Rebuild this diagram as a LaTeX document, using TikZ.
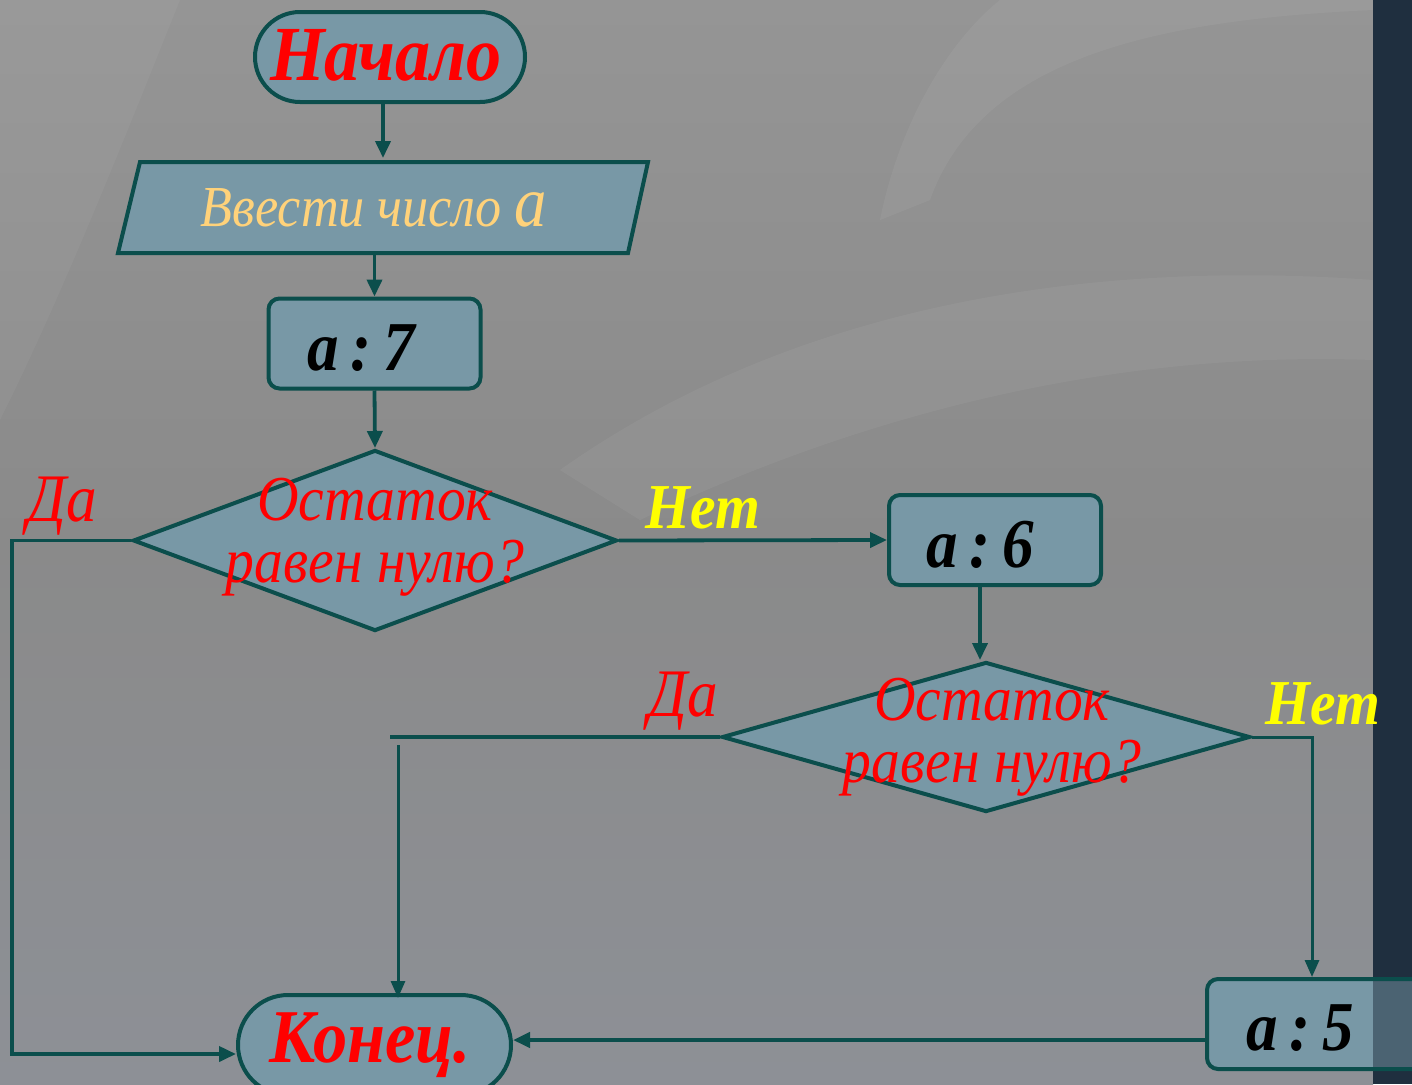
\documentclass[tikz,border=0pt]{standalone}
\usepackage{fontspec}
\setmainfont{Liberation Serif}
\newfontfamily\condfont[FakeStretch=0.9]{Liberation Serif}
\usetikzlibrary{shapes.geometric,shapes.misc,arrows.meta}
\definecolor{boxfill}{HTML}{7898A6}
\definecolor{edgec}{HTML}{0B4E4C}
\definecolor{redt}{HTML}{FF0000}
\definecolor{yelt}{HTML}{FFFF00}
\definecolor{inputt}{HTML}{FFD27A}
\definecolor{barc}{HTML}{1F2F3F}
\definecolor{bgtop}{HTML}{959595}
\definecolor{bgmid}{HTML}{8A8A8A}
\definecolor{bgbot}{HTML}{8D9096}
\tikzset{
  shapefill/.style={fill=boxfill, draw=edgec, line width=4pt},
  termbox/.style={shapefill, rounded rectangle, minimum width=270pt, minimum height=90pt, inner sep=0pt},
  procbox/.style={shapefill, rectangle, rounded corners=11pt, minimum width=212pt, minimum height=90pt, inner sep=0pt},
  decbox/.style={shapefill, diamond, inner sep=0pt},
  conn/.style={draw=edgec, line width=3.8pt, -{Triangle[length=17pt,width=15pt]}},
  thinconn/.style={draw=edgec, line width=3pt, -{Triangle[length=17pt,width=14pt]}},
  plainline/.style={draw=edgec, line width=3.8pt},
  txt/.style={inner sep=0pt, font=\condfont\itshape\fontsize{64}{62}\selectfont},
  boldtxt/.style={inner sep=0pt, font=\condfont\bfseries\itshape\fontsize{70}{70}\selectfont},
  yeltxt/.style={inner sep=0pt, text=yelt, font=\condfont\bfseries\itshape\fontsize{64}{64}\selectfont},
}
\begin{document}
\begin{tikzpicture}[x=1pt,y=-1pt]
% background
\useasboundingbox (0,0) rectangle (1412,1084);
\shade[top color=bgtop, bottom color=bgbot, middle color=bgmid] (0,0) rectangle (1373,1084);
\fill[white, opacity=0.05] (560,470) .. controls (800,300) and (1100,260) .. (1373,280) -- (1373,360) .. controls (1100,350) and (850,420) .. (640,520) -- cycle;
\fill[white, opacity=0.05] (930,200) .. controls (980,60) and (1150,20) .. (1373,10) -- (1373,0) -- (1000,0) .. controls (950,40) and (900,120) .. (880,220) -- cycle;
\fill[white, opacity=0.04] (0,0) -- (180,0) .. controls (120,150) and (60,300) .. (0,420) -- cycle;
\fill[barc] (1373,0) rectangle (1412,1084);

% input parallelogram
\node (inp) [minimum width=490pt, minimum height=91pt, inner sep=0pt] at (383,208) {};
\filldraw[shapefill] (140,162) -- (648,162) -- (628,253) -- (118,253) -- cycle;
\node[inner sep=0pt, text=inputt, font=\condfont\itshape\fontsize{58}{58}\selectfont] (inptxt) at (374,208) {Ввести число \fontsize{72}{72}\selectfont a};

% terminals and processes
\node[termbox] (start) at (390,57) {};
\node[boldtxt, text=redt, font=\condfont\bfseries\itshape\fontsize{78}{78}\selectfont] (starttxt) at (386,55) {Начало};

\node[procbox] (a7) at (374.5,343.5) {};
\node[boldtxt, text=black] (a7t) at (361,348) {a\,:\,7};

\node[decbox, minimum width=484pt, minimum height=181pt] (d1) at (375,540.5) {};
\node[txt, text=redt, align=center] (d1t) at (375,537) {Остаток\\равен нулю?};

\node[procbox] (a6) at (995,540) {};
\node[boldtxt, text=black] (a6t) at (980,545) {a\,:\,6};

\node[decbox, minimum width=528pt, minimum height=150pt] (d2) at (986,737) {};
\node[txt, text=redt, align=center] (d2t) at (992,737) {Остаток\\равен нулю?};

\node[procbox, minimum width=220pt] (a5) at (1317,1024) {};
\fill[barc, opacity=0.5] (1373,981) rectangle (1412,1067);
\node[boldtxt, text=black] (a5t) at (1300,1028) {a\,:\,5};

\node[termbox, minimum width=273pt, minimum height=100pt] (end) at (374.5,1045) {};
\node[boldtxt, text=redt, font=\condfont\bfseries\itshape\fontsize{76}{76}\selectfont] (endt) at (370,1045) {Конец.};

% labels
\node[txt, text=redt, font=\condfont\itshape\fontsize{68}{68}\selectfont] (da1) at (62,506) {Да};
\node[yeltxt] (net1) at (703,508) {Нет};
\node[txt, text=redt, font=\condfont\itshape\fontsize{68}{68}\selectfont] (da2) at (683,701) {Да};
\node[yeltxt] (net2) at (1323,704) {Нет};

% connectors
\draw[conn] (383,102) -- (383,158);
\draw[conn] (inp.south -| a7.north) -- (a7.north);
\draw[conn] (a7.south) -- (d1.north);
\draw[conn] (d1.east) -- (a6.west);
\draw[conn] (a6.south -| 980,0) -- (980,660);
\coordinate (c1) at (12,540.5);
\draw[conn] (d1.west) -- (c1) |- (end.west |- 0,1054);
\coordinate (c2) at (390,737);
\draw[plainline] (d2.west) -- (c2);
\draw[thinconn] (398,745) -- (398,998);
\draw[thinconn] (d2.east) -| (1312,977);
\draw[conn, line width=4.6pt] (a5.west |- 0,1040) -- (end.east |- 0,1040);
\end{tikzpicture}
\end{document}
